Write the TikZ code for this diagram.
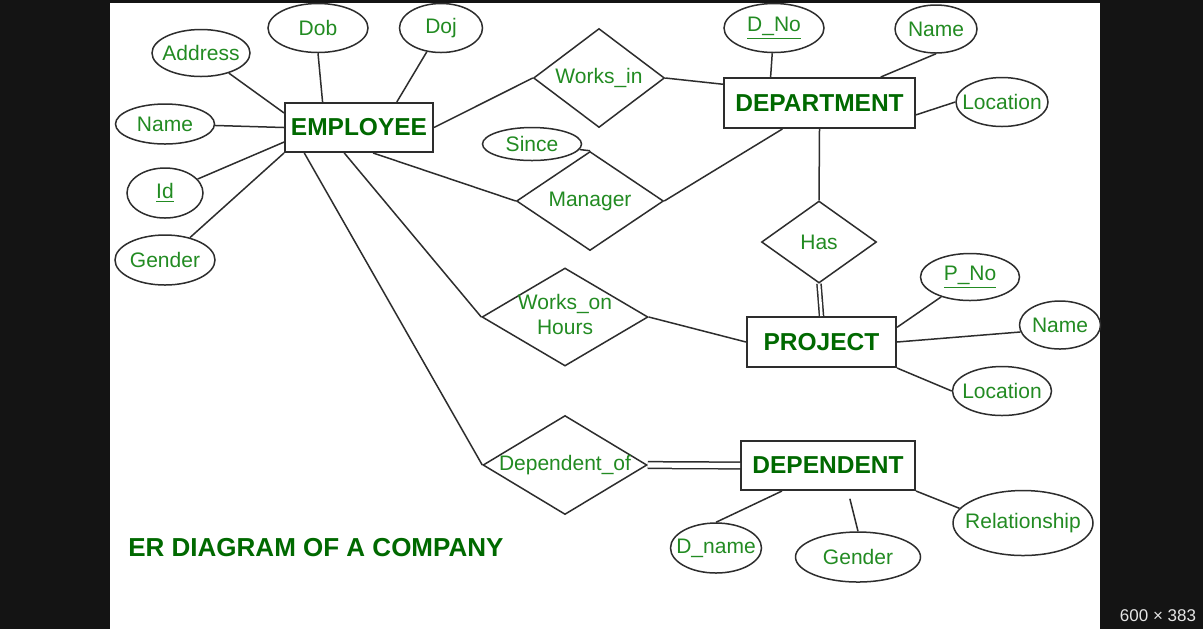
\documentclass[tikz,border=0pt]{standalone}
\usepackage{fontspec}
\setmainfont{Liberation Sans}
\usetikzlibrary{shapes.geometric}
\definecolor{attrgreen}{RGB}{34,139,34}
\definecolor{entgreen}{RGB}{0,105,0}
\definecolor{edgegray}{RGB}{45,45,45}
\newcommand{\ertext}[1]{\makebox[0pt]{#1}}
\tikzstyle{entity}=[draw=edgegray,line width=1pt,rectangle,inner sep=0pt,text=entgreen,font=\fontsize{12.25}{14}\selectfont\bfseries]
\tikzstyle{attrib}=[draw=edgegray,line width=0.75pt,ellipse,inner sep=0pt,text=attrgreen,font=\fontsize{10.5}{12.6}\selectfont]
\tikzstyle{relation}=[draw=edgegray,line width=0.75pt,diamond,inner sep=0pt,text=attrgreen,font=\fontsize{10.5}{12.6}\selectfont]
\tikzstyle{link}=[draw=edgegray,line width=0.75pt]
\tikzstyle{total}=[link,double,double distance=1.3pt]

\begin{document}
\begin{tikzpicture}[x=0.5pt,y=-0.5pt]
\useasboundingbox (0,0) rectangle (1203,629);
\fill[black!92] (0,0) rectangle (1203,629);
\fill[white] (110,3) rectangle (1100,629);

% entities
\node [entity,minimum width=74pt,minimum height=24.5pt] (emp) at (359,127.5) {EMPLOYEE};
\node [entity,minimum width=95.5pt,minimum height=25pt] (dept) at (819.5,103) {DEPARTMENT};
\node [entity,minimum width=74.5pt,minimum height=25pt] (proj) at (821.5,342) {PROJECT};
\node [entity,minimum width=87pt,minimum height=24.5pt] (dep) at (828,465.5) {DEPENDENT};

% relationships
\node [relation,minimum width=65.5pt,minimum height=49.5pt] (worksin) at (599,78) {\ertext{Works\_in}};
\node [relation,minimum width=73.5pt,minimum height=49.5pt] (manager) at (590,201) {\ertext{Manager}};
\node [relation,minimum width=57.5pt,minimum height=41pt] (has) at (819,242) {\ertext{Has}};
\node [relation,minimum width=83pt,minimum height=49pt] (workson) at (565,317)
	{\ertext{\begin{tabular}{@{}c@{}}Works\_on\\Hours\end{tabular}}};
\node [relation,minimum width=82pt,minimum height=49.5pt] (depof) at (565,465) {\ertext{Dependent\_of}};

% employee attributes
\node [attrib,minimum width=49pt,minimum height=23.5pt] (eaddr) at (201,53) {\ertext{Address}};
\node [attrib,minimum width=50pt,minimum height=24.5pt] (edob) at (318,28) {\ertext{Dob}};
\node [attrib,minimum width=41.5pt,minimum height=24.5pt] (edoj) at (441,28) {\ertext{Doj}};
\node [attrib,minimum width=49.5pt,minimum height=20pt] (ename) at (165,124) {\ertext{Name}};
\node [attrib,minimum width=38pt,minimum height=25pt] (eid) at (165,193) {\ertext{\underline{Id}}};
\node [attrib,minimum width=50pt,minimum height=25pt] (egender) at (165,260) {\ertext{Gender}};

% department attributes
\node [attrib,minimum width=50pt,minimum height=24.5pt] (dno) at (774,28) {\ertext{\underline{D\_No}}};
\node [attrib,minimum width=41pt,minimum height=24pt] (dname) at (936,29) {\ertext{Name}};
\node [attrib,minimum width=46pt,minimum height=24.5pt] (dloc) at (1002,102) {\ertext{Location}};
\node [attrib,minimum width=49.5pt,minimum height=16.5pt] (since) at (532,144) {\ertext{Since}};

% project attributes
\node [attrib,minimum width=49.5pt,minimum height=23.5pt] (pno) at (970,277) {\ertext{\underline{P\_No}}};
\node [attrib,minimum width=40.5pt,minimum height=24pt] (pname) at (1060,325) {\ertext{Name}};
\node [attrib,minimum width=49.5pt,minimum height=24.5pt] (ploc) at (1002,391) {\ertext{Location}};

% dependent attributes
\node [attrib,minimum width=45.5pt,minimum height=25pt] (ddname) at (716,548) {\ertext{D\_name}};
\node [attrib,minimum width=62.5pt,minimum height=25pt] (dgender) at (858,557) {\ertext{Gender}};
\node [attrib,minimum width=70pt,minimum height=32.5pt] (drel) at (1023,523) {\ertext{Relationship}};

% connectors
\draw [link] (eaddr) -- (emp.169);
\draw [link] (edob.south) -- (emp.145);
\draw [link] (edoj) -- (emp.34);
\draw [link] (ename) -- (emp.west);
\draw [link] (eid) -- (emp.191);
\draw [link] (egender) -- (emp.south west);
\draw [link] (emp.east) -- (worksin.west);
\draw [link] (emp.299) -- (manager.west);
\draw [link] (emp.240) -- (workson.west);
\draw [link] (emp.205) -- (depof.west);
\draw [link] (worksin.east) -- (dept.169);
\draw [link] (dno) -- (dept.152);
\draw [link] (dname.south) -- (dept.23);
\draw [link] (dloc.west) -- (dept.353);
\draw [link] (since) -- (manager.north);
\draw [link] (manager.east) -- (dept.215);
\draw [link] (dept.south) -- (has.north);
\draw [total] (has.south) -- (proj.north);
\draw [link] (workson.east) -- (proj.west);
\draw [link] (pno) -- (proj.11);
\draw [link] (pname.190) -- (proj.east);
\draw [link] (ploc.west) -- (proj.south east);
\draw [total,double distance=2.6pt] (depof.east) -- (dep.west);
\draw [link] (ddname.north) -- (dep.209);
\draw [link,shorten >=4pt] (dgender.north) -- (dep.308);
\draw [link] (drel.167) -- (dep.south east);

% caption
\node [anchor=west,inner sep=0pt,text=entgreen,font=\fontsize{13}{15}\selectfont\bfseries] (title) at (128,548) {ER DIAGRAM OF A COMPANY};
\node [text=black!10,font=\fontsize{8.5}{10}\selectfont] (dims) at (1158,616) {600 × 383};
\end{tikzpicture}
\end{document}
